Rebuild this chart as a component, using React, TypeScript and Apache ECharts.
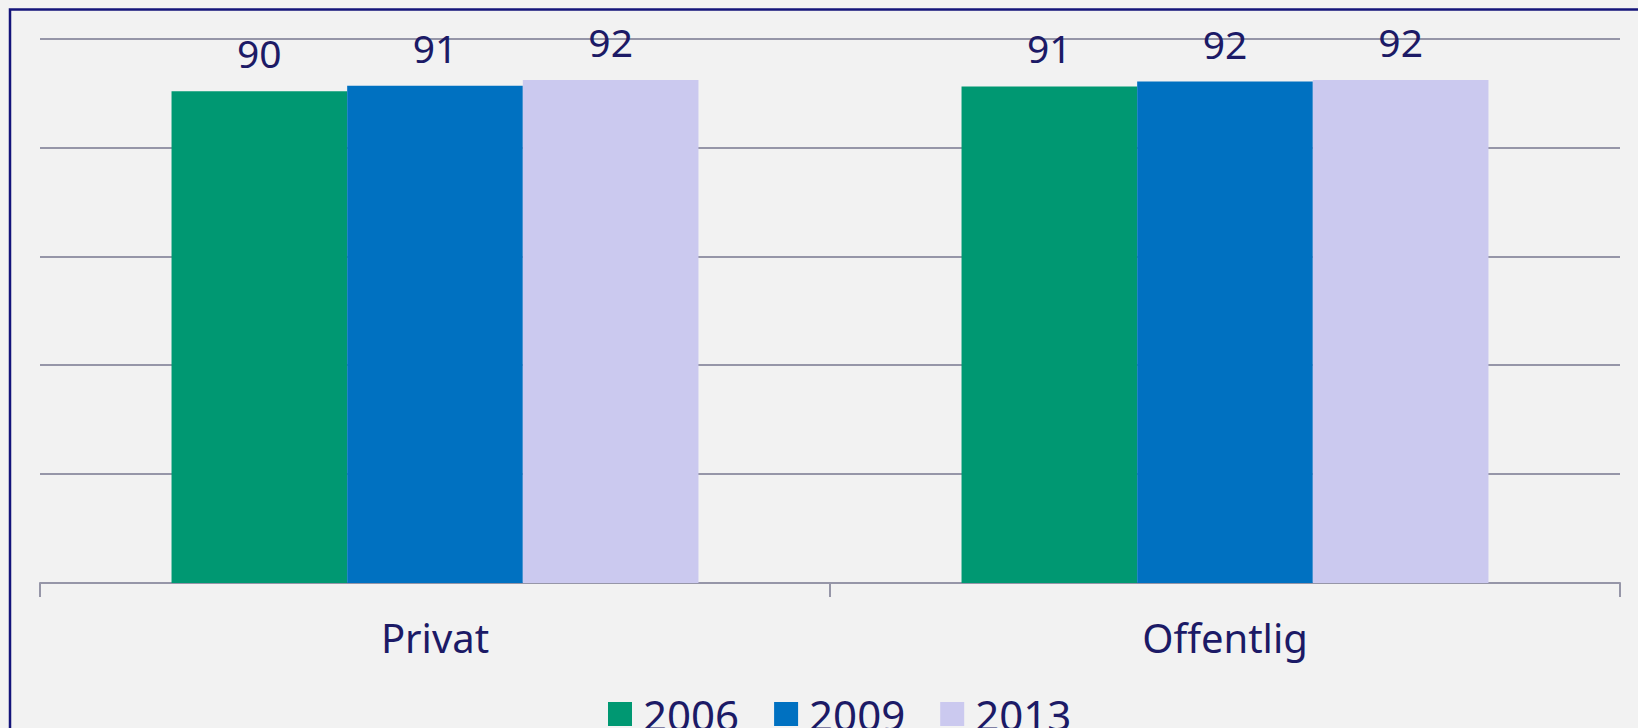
import React, { useEffect, useRef } from "react";
import * as echarts from "echarts";

const categories = ["Privat", "Offentlig"];
const seriesNames = ["2006", "2009", "2013"];
const values2006 = [90.3, 91.2];
const values2009 = [91.3, 92.1];
const values2013 = [92.4, 92.4];
const colors = ["#009872", "#0071c1", "#cbc9ef"];

const navy = "#1c1a66";
const gridColor = "#9696a8";

export default function App() {
  const ref = useRef<HTMLDivElement>(null);
  useEffect(() => {
    if (!ref.current) return;
    const chart = echarts.init(ref.current, undefined, { renderer: "svg" });
    const data = [values2006, values2009, values2013];
    chart.setOption({
      animation: false,
      backgroundColor: "#f2f2f2",
      textStyle: { fontFamily: "Noto Sans" },
      grid: { left: 40, right: 18, top: 38.5, bottom: 145, containLabel: false },
      legend: {
        data: seriesNames,
        left: 603,
        top: 688,
        itemWidth: 24,
        itemHeight: 24,
        itemGap: 35,
        icon: "rect",
        textStyle: { color: navy, fontSize: 42, fontFamily: "Noto Sans", padding: [0, 0, 0, 6], lineHeight: 42 },
      },
      xAxis: {
        type: "category",
        data: categories,
        axisLine: { lineStyle: { color: gridColor, width: 2 } },
        axisTick: { show: true, length: 14, lineStyle: { color: gridColor, width: 2 } },
        axisLabel: { color: navy, fontSize: 40, margin: 34, fontFamily: "Noto Sans" },
      },
      yAxis: {
        type: "value",
        min: 0,
        max: 100,
        interval: 20,
        axisLabel: { show: false },
        axisLine: { show: false },
        axisTick: { show: false },
        splitLine: { lineStyle: { color: gridColor, width: 2 } },
      },
      series: seriesNames.map((name, i) => ({
        name,
        type: "bar",
        data: data[i],
        barGap: "0%",
        barCategoryGap: "33.3%",
        itemStyle: { color: colors[i] },
        label: {
          show: true,
          position: "top",
          distance: 19,
          color: navy,
          fontSize: 39,
          fontFamily: "Noto Sans",
          formatter: (p: any) => String(Math.round(p.value)),
        },
      })),
      graphic: [
        {
          type: "rect",
          shape: { x: 10, y: 9.5, width: 1700, height: 800 },
          style: { fill: "none", stroke: "#14147a", lineWidth: 2.5 },
          silent: true,
        },
      ],
    });
    return () => chart.dispose();
  }, []);
  return (
    <div
      ref={ref}
      style={{ position: "absolute", left: 0, top: 0, width: 1638, height: 728 }}
    />
  );
}
